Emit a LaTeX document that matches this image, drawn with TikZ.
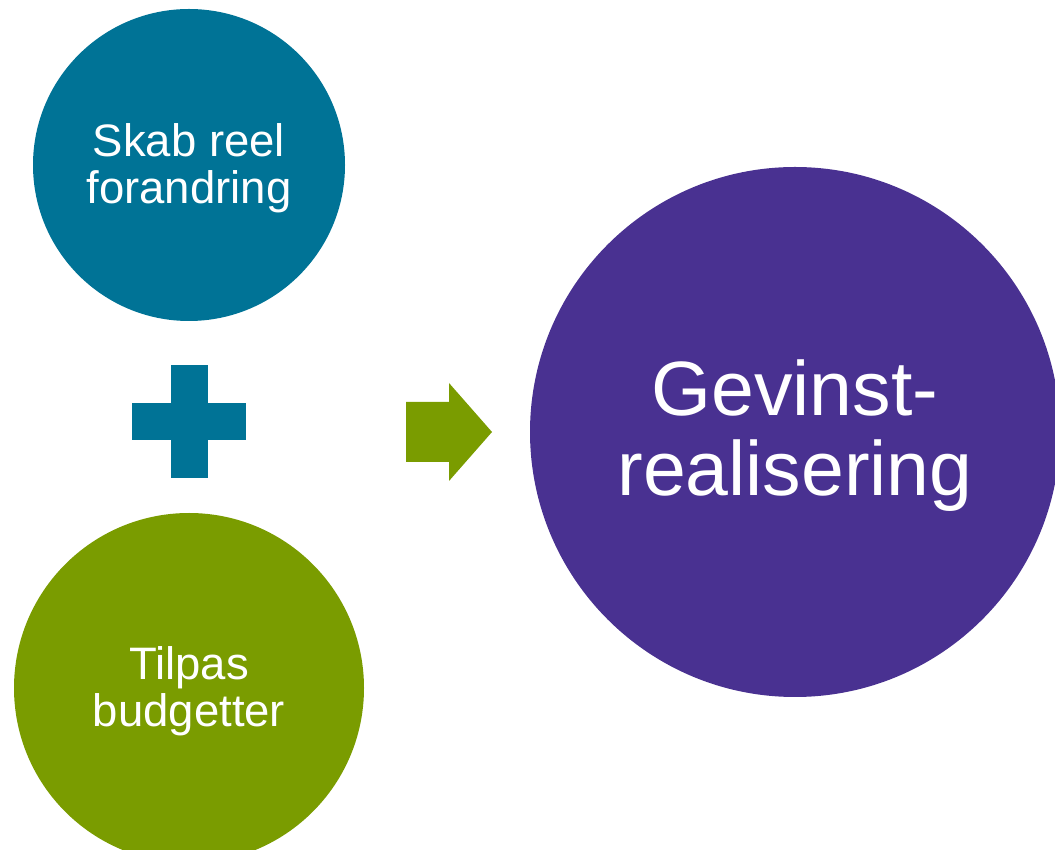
\documentclass[tikz,border=0pt]{standalone}
\usepackage{fontspec}
\setmainfont{Liberation Sans}
\definecolor{teal}{RGB}{0,115,150}
\definecolor{olive}{RGB}{122,156,0}
\definecolor{purple}{RGB}{73,49,145}
\begin{document}
\begin{tikzpicture}[x=1pt,y=1pt,
  disc/.style={circle,inner sep=0pt,text=white,align=center},
  small/.style={font=\fontsize{45.5}{47}\selectfont},
  large/.style={font=\fontsize{77}{80}\selectfont}]
\useasboundingbox (0,0) rectangle (1055,849);
\node[disc,small,fill=teal,minimum size=312] (skab) at (189,684) {};
\node[small,text=white,align=center] (skabtext) at (189,680.5) {Skab reel\\forandring};
\node[disc,small,fill=olive,minimum size=350] (tilpas) at (189,161) {};
\node[small,text=white,align=center] (tilpastext) at (189,158) {Tilpas\\budgetter};
\node[disc,large,fill=purple,minimum size=530] (gevinst) at (795,417) {};
\node[large,text=white,align=center] (gevinsttext) at (795,413) {Gevinst-\\realisering};
% plus
\fill[teal] (132,409) rectangle (246,446);
\fill[teal] (170.5,371) rectangle (207.5,484);
% arrow
\fill[olive] (406,387) -- (449,387) -- (449,368) -- (492,417)
	-- (449,466) -- (449,447) -- (406,447) -- cycle;
\end{tikzpicture}
\end{document}
